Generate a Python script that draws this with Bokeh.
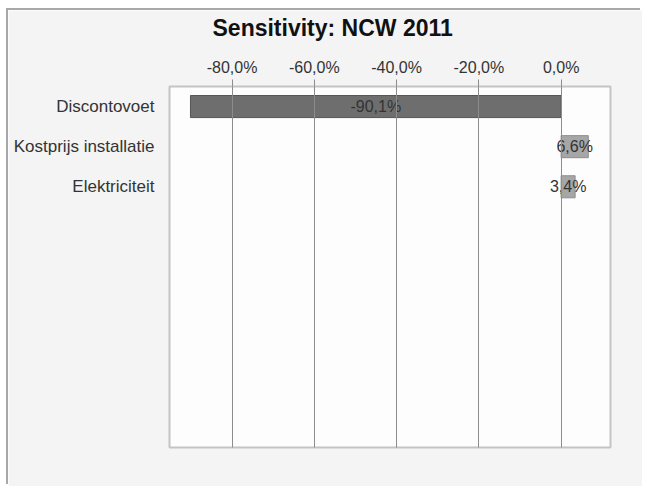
from bokeh.plotting import figure
from bokeh.models import (ColumnDataSource, FixedTicker, CustomJSTickFormatter, Range1d, Title)
from bokeh.core.properties import value
from bokeh.embed import file_html
from bokeh.resources import INLINE

# ---- data ----
categories = ["Discontovoet", "Kostprijs installatie", "Elektriciteit"]
values = [-90.1, 6.6, 3.4]
bar_colors = ["#6e6e6e", "#a6a6a6", "#a6a6a6"]
line_colors = ["#555555", "#8e8e8e", "#8e8e8e"]
x_ticks = [-80, -60, -40, -20, 0]
n_rows = 9
title_text = "Sensitivity: NCW 2011"

rows = list(range(1, len(categories) + 1))
labels = [("%.1f" % v).replace(".", ",") + "%" for v in values]
src = ColumnDataSource(dict(
    y=rows, v=values, mid=[v / 2 for v in values], lab=labels,
    fill=bar_colors, line=line_colors,
))

FONT = "Liberation Sans"
W, H = 634, 476

p = figure(width=W, height=H, output_backend="svg", toolbar_location=None,
           x_range=Range1d(-95.2, 12.0), y_range=Range1d(n_rows + 0.5, 0.5),
           x_axis_location="above",
           min_border_left=161, min_border_right=32, min_border_top=76,
           min_border_bottom=39)
p.margin = (10, 0, 0, 8)
p.styles = {"box-shadow": "-2px -2px 0px 0px #a8a8a8"}
p.background_fill_color = "#fdfdfd"
p.border_fill_color = "#f4f4f4"
p.outline_line_color = "#c4c4c4"
p.outline_line_width = 2

p.hbar(y="y", left=0, right="v", height=0.55, source=src,
       fill_color="fill", line_color="line", line_width=1)
p.text(x="mid", y="y", text="lab", source=src, text_align="center",
       text_baseline="middle", text_font=value(FONT), text_font_size="16px",
       text_color="#333333")

# x axis (top)
xa = p.xaxis[0]
xa.ticker = FixedTicker(ticks=x_ticks)
xa.formatter = CustomJSTickFormatter(code="return tick.toFixed(1).replace('.', ',') + '%';")
xa.axis_line_color = None
xa.major_tick_out = 7
xa.major_tick_in = 0
xa.major_tick_line_color = "#8c8c8c"
xa.minor_tick_line_color = None
xa.major_label_standoff = 4
xa.major_label_text_font = FONT
xa.major_label_text_font_size = "16px"
xa.major_label_text_color = "#333333"
# invisible spacer between the tick labels and the title
xa.axis_label = " "
xa.axis_label_text_font_size = "1px"
xa.axis_label_standoff = 10

# y axis
ya = p.yaxis[0]
ya.ticker = FixedTicker(ticks=list(range(1, n_rows + 1)))
overrides = {i: "" for i in range(1, n_rows + 1)}
for i, c in enumerate(categories):
    overrides[i + 1] = c
ya.major_label_overrides = overrides
ya.axis_line_color = None
ya.major_tick_line_color = None
ya.minor_tick_line_color = None
ya.major_label_standoff = 9
ya.major_label_text_font = FONT
ya.major_label_text_font_size = "17px"
ya.major_label_text_color = "#333333"

p.ygrid.grid_line_color = None
p.xgrid.grid_line_color = "#8c8c8c"
p.xgrid.grid_line_width = 1
p.xgrid.level = "overlay"

p.title = Title(text=title_text, align="left", offset=43, standoff=2,
                text_font=FONT, text_font_size="23px", text_font_style="bold",
                text_color="#111111")

open("out.html", "w").write(file_html(p, INLINE))
